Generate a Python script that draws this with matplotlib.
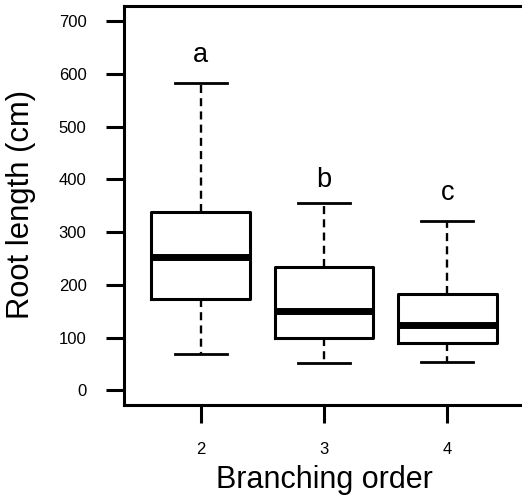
import matplotlib
matplotlib.use("Agg")
import matplotlib.pyplot as plt

plt.rcParams['font.family'] = ['Liberation Sans', 'DejaVu Sans']

# Summary statistics for each branching order
orders = ['2', '3', '4']
whisker_low = [68, 51, 53]
q1 = [173, 100, 90]
median = [253, 151, 123]
q3 = [339, 234, 183]
whisker_high = [583, 355, 321]
letters = ['a', 'b', 'c']
letter_y = [636, 399, 374]

positions = [2, 3, 4]
yticks = [0, 100, 200, 300, 400, 500, 600, 700]

W, H = 522, 497
fig = plt.figure(figsize=(W / 100, H / 100), dpi=100)
ax = fig.add_axes([124 / W, 1 - 405 / H, 400 / W, 399 / H])

stats = []
for lbl, lo, a, m, b, hi in zip(orders, whisker_low, q1, median, q3, whisker_high):
    stats.append(dict(label=lbl, whislo=lo, q1=a, med=m, q3=b, whishi=hi, fliers=[]))

ax.bxp(stats, positions=positions, widths=0.8, capwidths=0.42, showfliers=False,
       boxprops=dict(color='black', linewidth=2.2),
       medianprops=dict(color='black', linewidth=5.0, solid_capstyle='butt'),
       whiskerprops=dict(color='black', linewidth=1.7, linestyle=(0, (3.4, 2.2)),
                         dash_capstyle='butt'),
       capprops=dict(color='black', linewidth=2.0))

for x, t, y in zip(positions, letters, letter_y):
    ax.text(x, y, t, ha='center', va='center', fontsize=19.5)

ax.set_xlim(2 - 0.622, 4 + 0.622)
ax.set_ylim(-28, 729)
ax.set_xticks(positions)
ax.set_xticklabels(orders)
ax.set_yticks(yticks)
ax.set_yticklabels([str(v) for v in yticks])

for s in ax.spines.values():
    s.set_linewidth(2.2)
ax.tick_params(axis='both', direction='out', length=13, width=2.2, labelsize=12)
ax.tick_params(axis='y', pad=14)
ax.tick_params(axis='x', pad=14)

fig.text(324 / W, 1 - 480 / H, 'Branching order', ha='center', va='center', fontsize=22)
fig.text(21 / W, 1 - 205 / H, 'Root length (cm)', ha='center', va='center',
         rotation=90, fontsize=22.3)

fig.savefig('out.png', dpi=100)
